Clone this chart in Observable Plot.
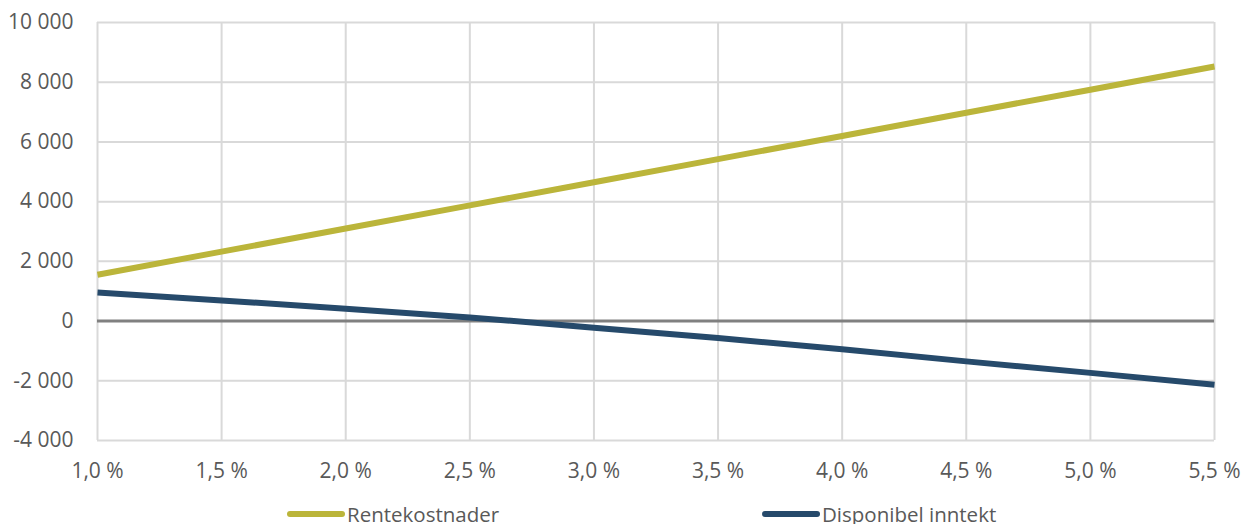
<!DOCTYPE html>
<html><head><meta charset="utf-8">
<script src="https://cdn.jsdelivr.net/npm/d3@7"></script>
<script src="https://cdn.jsdelivr.net/npm/@observablehq/plot@0.6"></script>
<style>
html,body{margin:0;padding:0;background:#fff;}
#chart{width:1243px;}
.legend{position:relative;width:1243px;height:32px;font-family:"Open Sans",sans-serif;font-size:20.5px;color:#595959;}
.item{position:absolute;top:10px;display:flex;align-items:center;line-height:24px;}
.sw{width:58px;height:6px;border-radius:3px;margin-right:2px;}
</style></head><body><div id="chart"></div>
<script>
const rates = [1.0, 1.5, 2.0, 2.5, 3.0, 3.5, 4.0, 4.5, 5.0, 5.5];
const rentekostnader = [1550, 2325, 3100, 3875, 4650, 5425, 6200, 6975, 7750, 8525];
const disponibelInntekt = [960, 690, 415, 120, -220, -570, -945, -1350, -1735, -2130];
const seriesNames = ["Rentekostnader", "Disponibel inntekt"];
const seriesColors = ["#bbb53a", "#264a6b"];
const yTicks = [-4000, -2000, 0, 2000, 4000, 6000, 8000, 10000];
const yTickLabels = ["-4 000", "-2 000", "0", "2 000", "4 000", "6 000", "8 000", "10 000"];
const xTicks = [1.0, 1.5, 2.0, 2.5, 3.0, 3.5, 4.0, 4.5, 5.0, 5.5];
const xTickLabels = ["1,0 %", "1,5 %", "2,0 %", "2,5 %", "3,0 %", "3,5 %", "4,0 %", "4,5 %", "5,0 %", "5,5 %"];

const data = [];
rates.forEach((r, i) => {
  data.push({rate: r, value: rentekostnader[i], series: seriesNames[0]});
});
rates.forEach((r, i) => {
  data.push({rate: r, value: disponibelInntekt[i], series: seriesNames[1]});
});

const chart = Plot.plot({
  width: 1243,
  height: 492,
  marginLeft: 97,
  marginRight: 29,
  marginTop: 22,
  marginBottom: 52,
  style: {fontFamily: "'Open Sans', sans-serif", fontSize: "21px", color: "#595959", background: "#fff"},
  x: {domain: [1.0, 5.5]},
  y: {domain: [-4000, 10000]},
  color: {domain: seriesNames, range: seriesColors},
  marks: [
    Plot.gridX(xTicks, {stroke: "#d9d9d9", strokeOpacity: 1, strokeWidth: 2}),
    Plot.gridY(yTicks, {stroke: "#d9d9d9", strokeOpacity: 1, strokeWidth: 2}),
    Plot.ruleY([0], {stroke: "#808080", strokeWidth: 3}),
    Plot.axisY(yTicks, {tickSize: 0, tickPadding: 24, tickFormat: d => yTickLabels[yTicks.indexOf(d)], label: null}),
    Plot.axisX(xTicks, {tickSize: 0, tickPadding: 23, tickFormat: d => xTickLabels[xTicks.indexOf(d)], label: null}),
    Plot.lineY(data, {x: "rate", y: "value", z: "series", stroke: "series", strokeWidth: 6, strokeLinecap: "butt"})
  ]
});
document.getElementById("chart").appendChild(chart);

const legend = document.createElement("div");
legend.className = "legend";
const legendLefts = [287, 762];
seriesNames.forEach((name, i) => {
  const item = document.createElement("div");
  item.className = "item";
  item.style.left = legendLefts[i] + "px";
  const sw = document.createElement("span");
  sw.className = "sw";
  sw.style.background = seriesColors[i];
  const t = document.createElement("span");
  t.textContent = name;
  item.appendChild(sw);
  item.appendChild(t);
  legend.appendChild(item);
});
document.body.appendChild(legend);
</script>
</body></html>
